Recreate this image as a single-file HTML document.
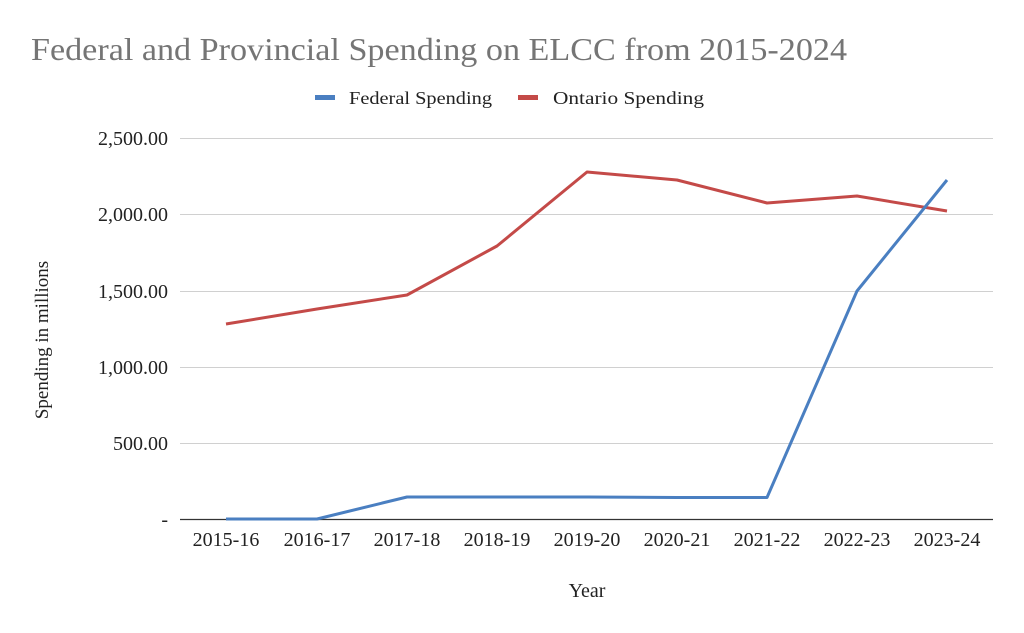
<!DOCTYPE html>
<html><head><meta charset="utf-8"><style>body{margin:0;background:#fff}svg{display:block}</style></head>
<body>
<svg width="1024" height="633" xmlns="http://www.w3.org/2000/svg" font-family="Liberation Serif, serif">
<rect width="1024" height="633" fill="#fff"/>
<text x="31" y="60" font-size="32" fill="#757575" textLength="816" lengthAdjust="spacingAndGlyphs">Federal and Provincial Spending on ELCC from 2015-2024</text>
<rect x="315" y="95" width="20" height="5" fill="#4a7fc1"/>
<text x="349" y="104" font-size="18" fill="#222" textLength="143" lengthAdjust="spacingAndGlyphs">Federal Spending</text>
<rect x="518" y="95" width="20" height="5" fill="#c44a48"/>
<text x="553" y="104" font-size="18" fill="#222" textLength="151" lengthAdjust="spacingAndGlyphs">Ontario Spending</text>
<g stroke="#d0d0d0" stroke-width="1">
<line x1="180" x2="993" y1="138.5" y2="138.5"/>
<line x1="180" x2="993" y1="214.5" y2="214.5"/>
<line x1="180" x2="993" y1="291.5" y2="291.5"/>
<line x1="180" x2="993" y1="367.5" y2="367.5"/>
<line x1="180" x2="993" y1="443.5" y2="443.5"/>
</g>
<line x1="180" x2="993" y1="519.5" y2="519.5" stroke="#333" stroke-width="1.3"/>
<g font-size="20" fill="#222" text-anchor="end">
<text x="168" y="145">2,500.00</text>
<text x="168" y="221">2,000.00</text>
<text x="168" y="298">1,500.00</text>
<text x="168" y="374">1,000.00</text>
<text x="168" y="450">500.00</text>
<text x="168" y="526">-</text>
</g>
<g font-size="20" fill="#222" text-anchor="middle">
<text x="226" y="546">2015-16</text>
<text x="317" y="546">2016-17</text>
<text x="407" y="546">2017-18</text>
<text x="497" y="546">2018-19</text>
<text x="587" y="546">2019-20</text>
<text x="677" y="546">2020-21</text>
<text x="767" y="546">2021-22</text>
<text x="857" y="546">2022-23</text>
<text x="947" y="546">2023-24</text>
<text x="587" y="597">Year</text>
</g>
<text transform="translate(48,340) rotate(-90)" font-size="19" fill="#222" text-anchor="middle">Spending in millions</text>
<polyline fill="none" stroke="#c44a48" stroke-width="3" stroke-linejoin="round" points="226,324 317,309 407,295 497,246 587,172 677,180 767,203 857,196 947,211"/>
<polyline fill="none" stroke="#4a7fc1" stroke-width="3" stroke-linejoin="round" points="226,519 317,519 407,497 497,497 587,497 677,497.5 767,497.5 857,291 947,180"/>
</svg>
</body></html>
